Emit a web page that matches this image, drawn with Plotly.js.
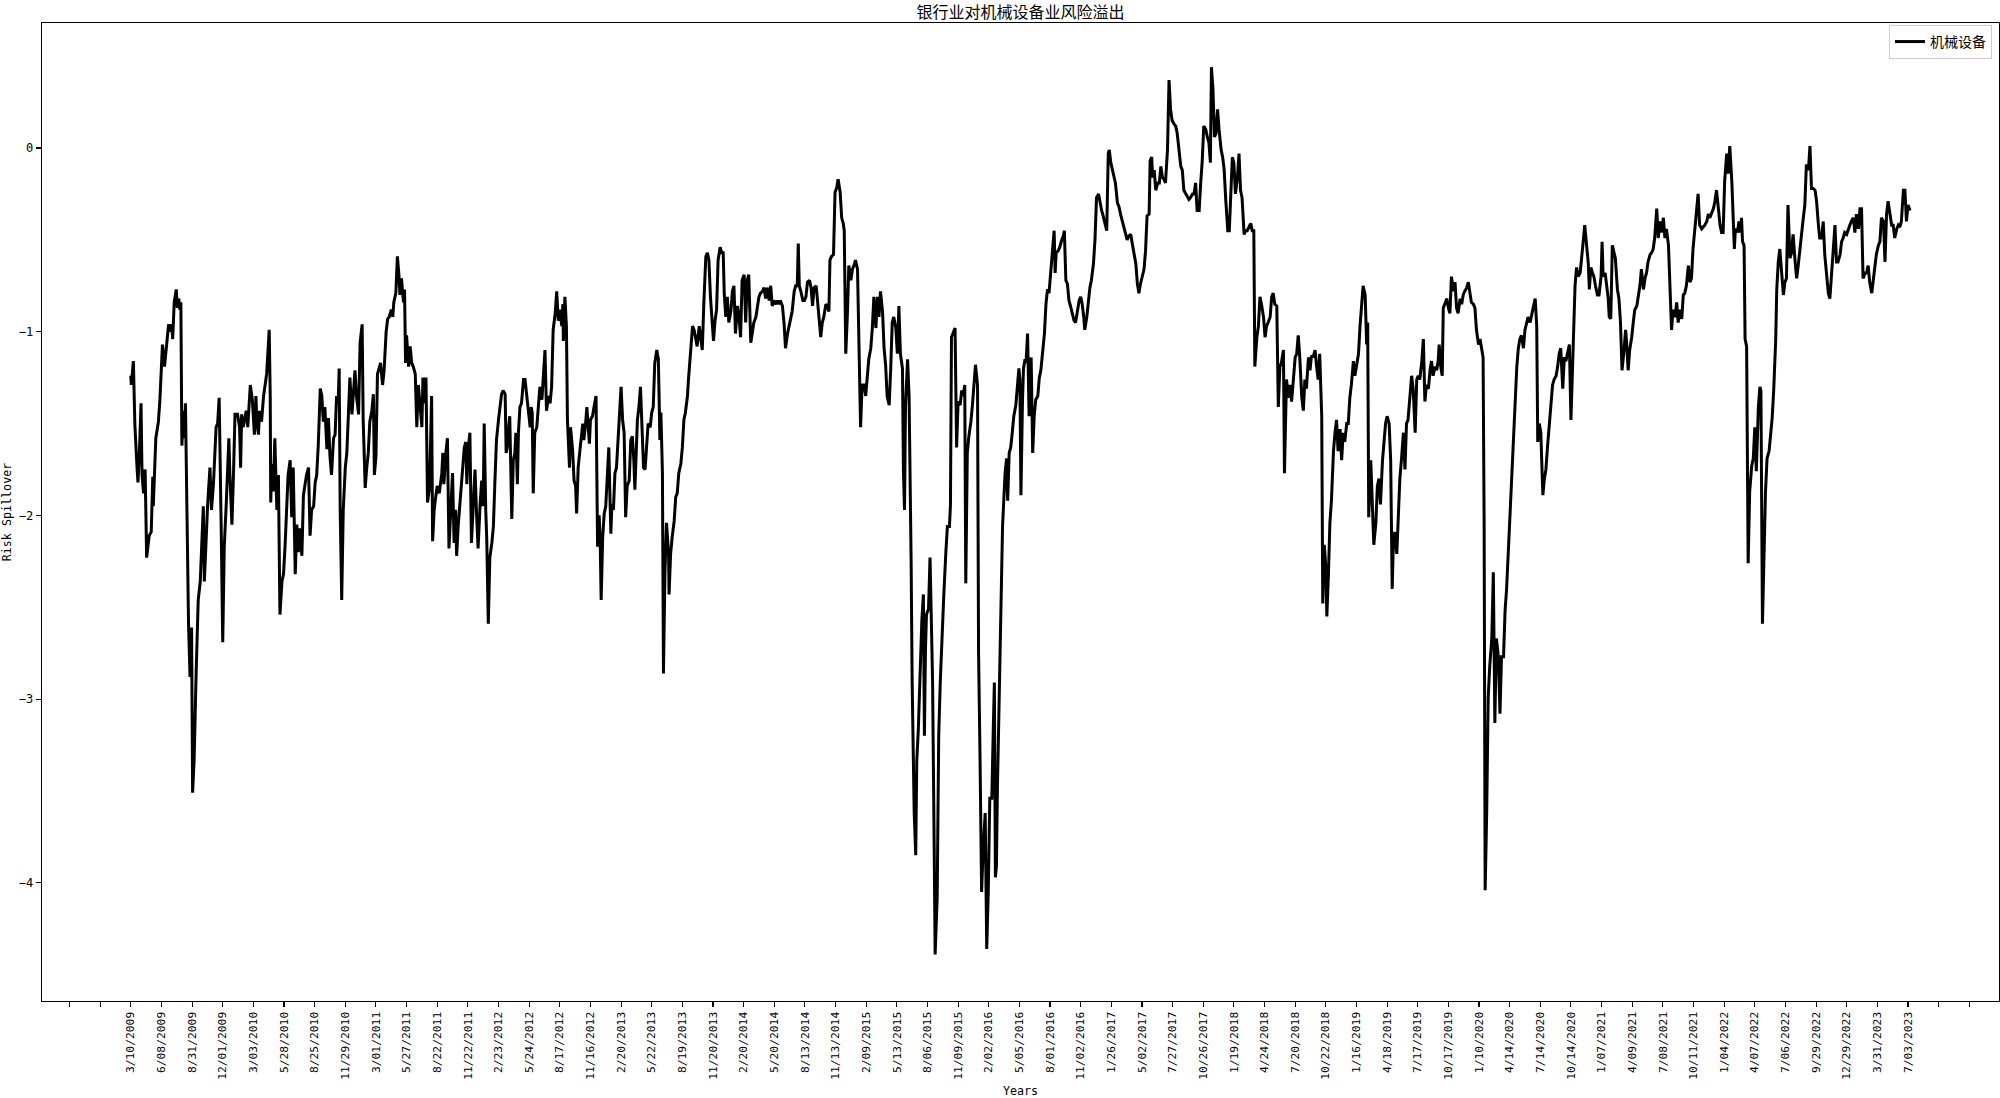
<!DOCTYPE html>
<html>
<head>
<meta charset="utf-8">
<script src="https://cdn.plot.ly/plotly-3.0.1.min.js"></script>
<style>
html,body{margin:0;padding:0;background:#fff;}
#chart{width:2000px;height:1098px;}
</style>
</head>
<body>
<div id="chart"></div>
<script>
const chartTitle = '银行业对机械设备业风险溢出';
const seriesName = '机械设备';
const xTitle = 'Years';
const yTitle = 'Risk Spillover';

const tickDates = ['3/10/2009','6/08/2009','8/31/2009','12/01/2009','3/03/2010','5/28/2010','8/25/2010','11/29/2010',
'3/01/2011','5/27/2011','8/22/2011','11/22/2011','2/23/2012','5/24/2012','8/17/2012','11/16/2012',
'2/20/2013','5/22/2013','8/19/2013','11/20/2013','2/20/2014','5/20/2014','8/13/2014','11/13/2014',
'2/09/2015','5/13/2015','8/06/2015','11/09/2015','2/02/2016','5/05/2016','8/01/2016','11/02/2016',
'1/26/2017','5/02/2017','7/27/2017','10/26/2017','1/19/2018','4/24/2018','7/20/2018','10/22/2018',
'1/16/2019','4/18/2019','7/17/2019','10/17/2019','1/10/2020','4/14/2020','7/14/2020','10/14/2020',
'1/07/2021','4/09/2021','7/08/2021','10/11/2021','1/04/2022','4/07/2022','7/06/2022','9/29/2022',
'12/29/2022','3/31/2023','7/03/2023'];
const tickStep = 60;            // trading days between labelled ticks
const yTicks = [0, -1, -2, -3, -4];

// [trading-day index, risk spillover]
const spilloverByDay = [
[0,-1.24],[1,-1.29],[5,-1.16],[8,-1.51],[12,-1.73],[14,-1.82],[17,-1.64],[20,-1.39],[22,-1.78],[25,-1.88],[28,-1.75],[31,-2.23],[36,-2.11],[40,-2.09],[43,-1.79],[44,-1.95],[49,-1.58],[54,-1.49],[57,-1.37],[62,-1.07],[66,-1.19],[69,-1.11],[74,-0.96],[77,-1.00],[80,-0.96],[82,-1.04],[85,-0.84],[89,-0.77],[91,-0.87],[94,-0.82],[96,-0.88],[98,-0.84],
[100,-1.62],[103,-1.43],[105,-1.58],[107,-1.39],[109,-1.82],[113,-2.59],[116,-2.88],[119,-2.61],[121,-3.51],[124,-3.33],[128,-2.85],[132,-2.46],[136,-2.36],[140,-2.07],[142,-1.95],[144,-2.36],[147,-2.11],[150,-1.97],[152,-1.87],[155,-1.74],[158,-1.97],[162,-1.82],[167,-1.52],[170,-1.50],[173,-1.36],[175,-1.64],[177,-2.07],[180,-2.69],[183,-2.17],[187,-1.93],[189,-1.78],[192,-1.58],[194,-1.78],[198,-2.05],
[201,-1.78],[204,-1.45],[209,-1.45],[213,-1.52],[215,-1.74],[217,-1.45],[220,-1.52],[226,-1.43],[229,-1.52],[234,-1.29],[238,-1.37],[242,-1.56],[245,-1.35],[247,-1.50],[250,-1.56],[252,-1.43],[256,-1.49],[260,-1.35],[266,-1.23],[271,-0.99],[273,-1.35],[274,-1.93],[276,-1.72],[279,-1.87],[282,-1.58],[286,-1.97],[289,-1.78],[292,-2.54],[296,-2.36],[299,-2.32],
[302,-2.17],[305,-1.97],[308,-1.78],[312,-1.70],[315,-2.01],[318,-1.74],[322,-2.32],[325,-2.05],[328,-2.20],[331,-2.07],[335,-2.22],[338,-1.89],[341,-1.83],[344,-1.78],[348,-1.74],[351,-2.11],[354,-1.97],[358,-1.95],[361,-1.82],[364,-1.78],[367,-1.62],[371,-1.31],[374,-1.35],[377,-1.49],[380,-1.41],[384,-1.64],[387,-1.47],[390,-1.68],[393,-1.78],[397,-1.58],
[400,-1.56],[403,-1.35],[406,-1.39],[408,-1.20],[410,-1.97],[413,-2.46],[416,-1.97],[420,-1.74],[423,-1.66],[426,-1.49],[429,-1.25],[433,-1.45],[436,-1.33],[439,-1.21],[442,-1.35],[446,-1.45],[449,-1.06],[453,-0.96],[455,-1.48],[459,-1.85],[462,-1.74],[465,-1.66],[468,-1.49],[472,-1.43],[475,-1.34],[477,-1.78],[480,-1.68],[483,-1.23],[487,-1.19],[489,-1.17],[493,-1.29],[496,-1.21],
[500,-1.00],[503,-0.93],[506,-0.92],[510,-0.88],[513,-0.92],[515,-0.84],[519,-0.79],[522,-0.59],[525,-0.69],[527,-0.80],[530,-0.71],[534,-0.84],[536,-0.77],[538,-1.17],[540,-1.02],[544,-1.19],[547,-1.08],[550,-1.17],[553,-1.19],[557,-1.23],[560,-1.52],[563,-1.29],[566,-1.39],[570,-1.52],[572,-1.25],[575,-1.39],[578,-1.25],[581,-1.93],[585,-1.85],
[589,-1.35],[591,-2.14],[594,-1.97],[597,-1.90],[600,-1.84],[604,-1.88],[609,-1.77],[611,-1.66],[613,-1.83],[617,-1.66],[620,-1.58],[623,-2.18],[626,-2.03],[630,-1.77],[633,-2.15],[636,-1.97],[638,-2.22],[641,-2.06],[646,-1.88],[650,-1.70],[653,-1.63],[656,-1.60],[658,-1.83],[661,-1.63],[664,-1.55],[667,-2.15],[671,-1.90],[674,-1.75],[677,-1.99],[680,-2.18],[684,-1.94],[687,-1.81],[690,-1.95],[692,-1.50],[695,-1.97],[697,-2.13],
[700,-2.59],[703,-2.23],[707,-2.15],[710,-2.06],[713,-1.81],[716,-1.59],[720,-1.48],[723,-1.41],[726,-1.34],[729,-1.32],[733,-1.34],[735,-1.66],[737,-1.63],[740,-1.52],[742,-1.46],[746,-2.02],[749,-1.70],[752,-1.66],[754,-1.55],[757,-1.83],[759,-1.55],[762,-1.41],[765,-1.39],[769,-1.26],[772,-1.26],[775,-1.34],[778,-1.41],[782,-1.52],[784,-1.41],[786,-1.44],[788,-1.88],[791,-1.55],[795,-1.52],[798,-1.41],
[801,-1.30],[805,-1.37],[808,-1.26],[811,-1.10],[814,-1.43],[818,-1.35],[821,-1.39],[824,-1.30],[827,-0.99],[831,-0.90],[834,-0.78],[837,-0.94],[840,-0.88],[844,-0.97],[846,-0.85],[847,-1.05],[850,-0.81],[853,-0.97],[855,-1.48],[859,-1.74],[861,-1.52],[865,-1.64],[868,-1.81],[871,-1.84],[873,-1.99],[876,-1.74],[880,-1.63],[883,-1.55],[885,-1.50],[887,-1.59],[890,-1.52],[893,-1.41],[896,-1.55],[898,-1.61],
[900,-1.48],[904,-1.46],[907,-1.41],[911,-1.35],[914,-2.17],[917,-2.00],[919,-2.12],[921,-2.46],[924,-2.12],[927,-1.99],[930,-1.95],[933,-1.81],[936,-1.63],[940,-2.10],[942,-1.94],[945,-1.97],[948,-1.77],[951,-1.74],[955,-1.55],[958,-1.41],[960,-1.30],[963,-1.48],[966,-1.55],[969,-2.01],[972,-1.84],[976,-1.81],[979,-1.59],[982,-1.57],[985,-1.70],[987,-1.86],[989,-1.66],[992,-1.48],[995,-1.41],[998,-1.30],
[1001,-1.52],[1004,-1.74],[1007,-1.75],[1010,-1.63],[1013,-1.50],[1017,-1.52],[1020,-1.44],[1023,-1.41],[1026,-1.17],[1030,-1.10],[1033,-1.15],[1035,-1.43],[1036,-1.59],[1038,-1.44],[1041,-1.77],[1043,-2.86],[1046,-2.30],[1049,-2.04],[1053,-2.21],[1054,-2.43],[1057,-2.21],[1060,-2.12],[1064,-2.03],[1067,-1.90],[1070,-1.88],[1073,-1.77],[1077,-1.72],[1080,-1.63],[1083,-1.48],[1086,-1.44],[1090,-1.35],[1092,-1.26],[1096,-1.12],
[1100,-0.97],[1103,-0.99],[1106,-1.03],[1109,-1.08],[1113,-0.97],[1116,-1.05],[1119,-1.10],[1122,-0.85],[1126,-0.59],[1129,-0.57],[1132,-0.61],[1135,-0.81],[1139,-0.94],[1141,-1.05],[1144,-0.94],[1147,-0.88],[1150,-0.61],[1154,-0.54],[1157,-0.57],[1160,-0.57],[1162,-0.79],
[1165,-0.92],[1168,-0.81],[1171,-0.95],[1175,-0.89],[1178,-0.78],[1181,-0.75],[1184,-1.01],[1188,-0.86],[1191,-0.92],[1194,-1.03],[1197,-0.72],[1201,-0.69],[1204,-0.95],[1207,-0.72],[1210,-0.69],[1214,-1.06],[1217,-1.01],[1220,-0.95],[1224,-0.92],[1227,-0.86],[1230,-0.81],[1233,-0.79],[1237,-0.78],[1240,-0.76],[1243,-0.82],[1246,-0.76],[1250,-0.83],[1253,-0.75],[1256,-0.86],[1259,-0.83],[1263,-0.85],[1266,-0.83],[1269,-0.85],[1272,-0.83],[1276,-0.86],[1279,-0.95],[1282,-1.09],[1286,-1.01],[1289,-0.96],[1292,-0.93],[1295,-0.89],[1299,-0.78],
[1302,-0.75],[1305,-0.75],[1307,-0.52],[1309,-0.75],[1312,-0.78],[1316,-0.83],[1319,-0.83],[1322,-0.81],[1325,-0.73],[1329,-0.72],[1332,-0.76],[1335,-0.86],[1338,-0.76],[1342,-0.75],[1344,-0.81],[1348,-0.95],[1351,-1.03],[1354,-0.95],[1357,-0.92],[1361,-0.85],[1364,-0.86],[1367,-0.89],[1369,-0.61],[1372,-0.59],[1376,-0.58],[1379,-0.24],[1382,-0.22],[1385,-0.17],[1389,-0.24],[1392,-0.38],[1395,-0.41],[1397,-0.45],
[1400,-1.12],[1403,-0.92],[1406,-0.64],[1410,-0.72],[1413,-0.66],[1416,-0.64],[1419,-0.61],[1423,-0.66],[1426,-1.12],[1429,-1.52],[1432,-1.29],[1436,-1.29],[1439,-1.35],[1442,-1.26],[1445,-1.15],[1449,-1.09],[1452,-0.98],[1455,-0.81],[1459,-0.98],[1462,-0.81],[1465,-0.92],[1468,-0.78],[1472,-0.89],[1475,-1.09],[1478,-1.18],[1481,-1.35],[1485,-1.40],[1488,-1.20],[1491,-0.95],[1494,-0.92],[1498,-0.98],
[1501,-1.12],[1504,-0.86],[1507,-1.12],[1511,-1.20],[1513,-1.77],[1515,-1.97],[1517,-1.40],[1521,-1.15],[1524,-1.35],[1526,-1.69],[1528,-2.26],[1530,-2.91],[1534,-3.62],[1537,-3.85],[1539,-3.34],[1542,-3.17],[1545,-2.86],[1549,-2.57],[1552,-2.43],[1554,-3.20],[1556,-2.74],[1558,-2.54],[1562,-2.51],[1565,-2.23],[1568,-2.63],[1570,-2.91],[1573,-3.77],[1575,-4.39],[1579,-4.08],[1582,-3.20],[1585,-2.91],[1588,-2.74],[1592,-2.43],[1596,-2.20],[1599,-2.06],
[1603,-2.06],[1605,-1.94],[1607,-1.03],[1611,-1.00],[1614,-0.98],[1617,-1.63],[1620,-1.38],[1624,-1.40],[1627,-1.32],[1630,-1.35],[1633,-1.29],[1635,-2.37],[1638,-1.66],[1641,-1.57],[1645,-1.49],[1648,-1.40],[1651,-1.29],[1654,-1.18],[1658,-1.29],[1660,-2.74],[1663,-3.34],[1664,-3.77],[1666,-4.05],[1669,-3.82],[1673,-3.62],[1676,-4.36],[1679,-4.05],[1682,-3.54],[1686,-3.54],[1689,-3.14],[1691,-2.91],[1693,-3.97],[1695,-3.91],[1697,-3.48],
[1701,-2.91],[1703,-2.49],[1707,-2.06],[1709,-1.94],[1712,-1.77],[1715,-1.69],[1717,-1.92],[1720,-1.66],[1723,-1.63],[1726,-1.55],[1729,-1.46],[1733,-1.40],[1736,-1.29],[1739,-1.20],[1741,-1.26],[1743,-1.89],[1746,-1.38],[1748,-1.20],[1751,-1.15],
[1753,-1.17],[1756,-1.01],[1759,-1.46],[1763,-1.14],[1766,-1.66],[1769,-1.46],[1772,-1.37],[1776,-1.35],[1779,-1.25],[1782,-1.21],[1786,-1.10],[1789,-1.01],[1792,-0.85],[1795,-0.77],[1798,-0.79],[1801,-0.70],[1804,-0.59],[1808,-0.45],[1810,-0.68],[1812,-0.57],[1816,-0.56],[1819,-0.54],[1823,-0.50],[1826,-0.48],[1828,-0.45],[1831,-0.72],[1834,-0.74],[1837,-0.83],[1840,-0.86],[1844,-0.90],[1847,-0.94],[1850,-0.95],[1853,-0.90],[1857,-0.83],[1860,-0.81],[1863,-0.85],[1866,-0.92],[1868,-0.99],[1872,-0.92],[1875,-0.83],[1878,-0.76],[1881,-0.72],[1885,-0.63],[1888,-0.50],[1891,-0.27],[1895,-0.25],[1898,-0.30],
[1901,-0.34],[1904,-0.37],[1908,-0.41],[1911,-0.45],[1914,-0.03],[1916,-0.01],[1919,-0.08],[1922,-0.12],[1925,-0.16],[1928,-0.19],[1932,-0.30],[1935,-0.32],[1938,-0.36],[1941,-0.39],[1945,-0.43],[1948,-0.47],[1951,-0.50],[1954,-0.48],[1958,-0.47],[1961,-0.52],[1964,-0.57],[1968,-0.63],[1971,-0.74],[1974,-0.79],[1977,-0.74],[1981,-0.70],[1984,-0.66],[1987,-0.56],[1990,-0.37],[1994,-0.36],[1996,-0.07],[1999,-0.05],
[2001,-0.16],[2004,-0.12],[2007,-0.23],[2011,-0.19],[2014,-0.19],[2017,-0.10],[2020,-0.16],[2023,-0.17],[2026,-0.19],[2030,-0.01],[2033,0.37],[2036,0.21],[2039,0.15],[2043,0.13],[2046,0.12],[2049,0.08],[2052,-0.01],[2056,-0.10],[2059,-0.12],[2062,-0.23],[2066,-0.25],[2069,-0.27],[2072,-0.28],[2075,-0.27],[2079,-0.25],[2082,-0.25],[2085,-0.19],[2088,-0.34],[2092,-0.34],[2095,-0.19],[2098,-0.07],
[2101,0.12],[2105,0.10],[2108,0.06],[2111,0.03],[2114,-0.08],[2116,0.44],[2119,0.32],[2122,0.06],[2125,0.08],[2128,0.21],[2131,0.10],[2135,-0.01],[2138,-0.05],[2141,-0.12],[2144,-0.28],[2148,-0.45],[2151,-0.45],[2154,-0.28],[2157,-0.05],[2160,-0.08],[2163,-0.25],[2167,-0.16],[2170,-0.03],[2173,-0.23],[2176,-0.27],[2180,-0.47],[2183,-0.45],[2186,-0.45],[2190,-0.43],[2193,-0.41],[2196,-0.45],[2199,-0.45],
[2201,-1.19],[2205,-1.03],[2208,-0.97],[2211,-0.81],[2214,-0.85],[2218,-0.92],[2221,-1.03],[2224,-0.97],[2227,-0.95],[2231,-0.92],[2234,-0.81],[2237,-0.79],[2240,-0.85],[2244,-0.86],[2247,-1.41],[2250,-1.19],[2253,-1.17],[2257,-1.10],[2259,-1.77],
[2261,-1.50],[2263,-1.26],[2267,-1.36],[2270,-1.29],[2273,-1.38],[2276,-1.26],[2280,-1.14],[2283,-1.12],[2286,-1.02],[2289,-1.14],[2293,-1.36],[2296,-1.43],[2299,-1.26],[2302,-1.31],[2306,-1.14],[2309,-1.21],[2312,-1.13],[2315,-1.14],[2319,-1.10],[2322,-1.19],[2325,-1.26],[2328,-1.12],[2332,-1.46],[2334,-2.48],[2337,-2.16],[2340,-2.28],[2342,-2.55],[2345,-2.33],[2348,-2.04],[2351,-1.92],[2355,-1.65],[2358,-1.55],
[2361,-1.48],[2364,-1.65],[2368,-1.53],[2371,-1.70],[2374,-1.55],[2377,-1.60],[2381,-1.50],[2384,-1.50],[2387,-1.36],[2390,-1.29],[2394,-1.16],[2397,-1.24],[2400,-1.19],[2404,-1.12],[2407,-0.97],[2410,-0.85],[2413,-0.75],[2417,-0.80],[2420,-1.07],[2422,-0.95],[2424,-2.01],[2428,-1.70],[2431,-1.89],[2434,-2.16],[2438,-2.04],[2441,-1.84],[2444,-1.80],[2447,-1.94],[2451,-1.70],[2454,-1.58],[2457,-1.50],[2460,-1.46],[2464,-1.50],[2467,-1.70],[2470,-2.40],[2472,-2.18],[2475,-2.09],[2479,-2.21],[2482,-1.99],[2485,-1.80],[2488,-1.70],[2492,-1.55],[2495,-1.75],[2498,-1.50],
[2501,-1.48],[2505,-1.31],[2508,-1.24],[2511,-1.31],[2515,-1.55],[2518,-1.26],[2521,-1.24],[2524,-1.26],[2528,-1.16],[2531,-1.04],[2534,-1.38],[2537,-1.29],[2541,-1.31],[2544,-1.21],[2547,-1.16],[2550,-1.24],[2554,-1.19],[2557,-1.21],[2560,-1.16],[2562,-1.07],[2565,-1.19],[2568,-1.24],[2570,-0.87],[2573,-0.85],[2577,-0.82],[2580,-0.87],[2583,-0.90],[2586,-0.70],[2590,-0.78],[2593,-0.73],[2596,-0.87],[2599,-0.90],
[2603,-0.82],[2606,-0.85],[2609,-0.80],[2612,-0.78],[2616,-0.76],[2619,-0.73],[2622,-0.80],[2625,-0.84],[2629,-0.85],[2632,-0.87],[2635,-0.99],[2639,-1.07],[2642,-1.04],[2645,-1.09],[2648,-1.14],[2650,-2.04],[2652,-4.04],[2655,-3.62],[2658,-2.99],[2661,-2.82],[2665,-2.67],[2668,-2.31],[2671,-3.13],[2674,-2.67],[2678,-2.77],[2681,-3.08],[2684,-2.77],[2688,-2.77],[2691,-2.52],[2694,-2.40],[2697,-2.21],
[2701,-1.99],[2704,-1.80],[2707,-1.60],[2710,-1.43],[2714,-1.19],[2717,-1.09],[2720,-1.04],[2723,-1.02],[2727,-1.09],[2730,-0.99],[2733,-0.95],[2736,-0.92],[2740,-0.95],[2743,-0.90],[2746,-0.87],[2750,-0.82],[2753,-0.97],[2755,-1.60],[2758,-1.50],[2761,-1.55],[2765,-1.89],[2768,-1.80],[2771,-1.75],[2774,-1.63],[2778,-1.48],[2781,-1.36],[2784,-1.29],[2787,-1.26],[2791,-1.24],[2794,-1.19],[2797,-1.12],
[2800,-1.09],[2804,-1.31],[2807,-1.14],[2810,-1.16],[2813,-1.12],[2817,-1.07],[2820,-1.48],[2822,-1.31],[2825,-1.07],[2828,-0.75],[2831,-0.65],[2834,-0.70],[2838,-0.68],[2841,-0.61],[2844,-0.51],[2847,-0.42],[2851,-0.53],[2854,-0.63],[2856,-0.77],[2859,-0.65],[2862,-0.68],[2865,-0.70],[2868,-0.75],[2872,-0.80],[2875,-0.80],[2879,-0.70],[2881,-0.51],[2883,-0.70],[2887,-0.68],[2890,-0.75],[2893,-0.82],[2895,-0.92],
[2898,-0.93],[2901,-0.53],[2904,-0.57],[2907,-0.60],[2911,-0.77],[2914,-0.82],[2917,-0.95],[2920,-1.21],[2924,-1.10],[2927,-0.99],[2929,-1.06],[2932,-1.21],[2935,-1.10],[2939,-1.03],[2942,-0.95],[2945,-0.88],[2949,-0.86],[2952,-0.81],[2955,-0.75],[2958,-0.66],[2962,-0.77],[2965,-0.71],[2968,-0.68],[2971,-0.62],[2975,-0.58],[2978,-0.57],[2981,-0.55],[2984,-0.49],[2988,-0.33],[2991,-0.49],[2994,-0.40],[2997,-0.46],
[3001,-0.38],[3004,-0.49],[3007,-0.44],[3011,-0.53],[3014,-0.79],[3017,-0.99],[3020,-0.88],[3024,-0.92],[3027,-0.84],[3030,-0.95],[3033,-0.88],[3037,-0.93],[3040,-0.80],[3043,-0.79],[3046,-0.75],[3050,-0.64],[3053,-0.73],[3056,-0.71],[3059,-0.55],[3063,-0.44],[3066,-0.36],[3069,-0.25],[3072,-0.42],[3076,-0.44],[3079,-0.43],[3082,-0.42],[3086,-0.40],[3089,-0.36],[3092,-0.38],[3095,-0.36],[3099,-0.33],
[3102,-0.29],[3105,-0.23],[3108,-0.31],[3112,-0.42],[3115,-0.46],[3118,-0.46],[3121,-0.18],[3125,-0.03],[3128,-0.14],[3131,0.01],[3135,-0.18],[3138,-0.40],[3140,-0.55],[3142,-0.44],[3146,-0.46],[3149,-0.40],[3152,-0.46],[3154,-0.38],[3156,-0.51],[3159,-0.53],[3161,-1.04],[3164,-1.08],[3167,-2.26],[3170,-1.87],[3174,-1.73],[3177,-1.69],[3180,-1.52],[3183,-1.76],[3187,-1.41],[3190,-1.30],[3192,-1.32],[3195,-2.59],[3198,-2.20],
[3201,-1.87],[3204,-1.69],[3208,-1.65],[3211,-1.56],[3214,-1.47],[3217,-1.32],[3221,-1.04],[3223,-0.77],[3226,-0.62],[3229,-0.55],[3232,-0.68],[3236,-0.80],[3239,-0.73],[3242,-0.71],[3245,-0.31],[3249,-0.60],[3252,-0.57],[3255,-0.47],[3259,-0.62],[3262,-0.71],[3265,-0.64],[3268,-0.55],[3272,-0.44],[3275,-0.38],[3278,-0.31],[3281,-0.09],[3285,-0.12],[3288,0.01],[3291,-0.22],[3294,-0.22],[3298,-0.23],
[3301,-0.29],[3304,-0.40],[3307,-0.49],[3311,-0.49],[3314,-0.40],[3317,-0.58],[3321,-0.73],[3324,-0.79],[3327,-0.82],[3330,-0.71],[3334,-0.58],[3337,-0.42],[3340,-0.62],[3343,-0.62],[3347,-0.58],[3350,-0.51],[3353,-0.49],[3356,-0.46],[3360,-0.47],[3363,-0.44],[3366,-0.42],[3369,-0.40],[3373,-0.38],[3376,-0.46],[3379,-0.36],[3383,-0.44],[3386,-0.33],[3389,-0.33],[3392,-0.71],[3396,-0.68],[3399,-0.68],
[3402,-0.64],[3405,-0.73],[3409,-0.79],[3412,-0.71],[3415,-0.66],[3418,-0.58],[3422,-0.53],[3425,-0.51],[3428,-0.38],[3432,-0.40],[3435,-0.62],[3438,-0.36],[3441,-0.29],[3445,-0.38],[3448,-0.42],[3451,-0.42],[3454,-0.49],[3458,-0.44],[3461,-0.42],[3464,-0.43],[3467,-0.40],[3471,-0.23],[3474,-0.23],[3477,-0.40],[3480,-0.31],[3484,-0.34]
];

const xs = spilloverByDay.map(p => p[0]);
const ys = spilloverByDay.map(p => p[1]);

const tickVals = [];
const tickText = [];
for (let k = -2; k < tickDates.length + 2; k++) {
  tickVals.push(k * tickStep);
  tickText.push(k >= 0 && k < tickDates.length ? tickDates[k] : '');
}

const monoFont = 'DejaVu Sans Mono, Liberation Mono, monospace';
const cjkFont = 'Noto Sans CJK SC, Noto Sans, sans-serif';

const trace = {
  type: 'scatter',
  mode: 'lines',
  x: xs,
  y: ys,
  name: seriesName,
  showlegend: true,
  line: { color: '#000000', width: 3 },
  hoverinfo: 'skip'
};

const layout = {
  width: 2000,
  height: 1098,
  margin: { l: 42, r: 1, t: 23, b: 97, pad: 0 },
  paper_bgcolor: '#ffffff',
  plot_bgcolor: '#ffffff',
  title: {
    text: chartTitle,
    font: { family: cjkFont, size: 16, color: '#000000' },
    x: 0.5, xref: 'paper', xanchor: 'center',
    y: 1 - 12.5 / 1098, yref: 'container', yanchor: 'middle'
  },
  xaxis: {
    range: [-173.9, 3658.2],
    tickmode: 'array',
    tickvals: tickVals,
    ticktext: tickText,
    tickangle: -90,
    ticks: 'outside', ticklen: 5, tickwidth: 1.1, tickcolor: '#000000',
    showline: true, linecolor: '#000000', linewidth: 1.3, mirror: true,
    showgrid: false, zeroline: false,
    tickfont: { family: monoFont, size: 11.3, color: '#000000' },
    title: { text: xTitle, font: { family: monoFont, size: 11.7, color: '#000000' }, standoff: 16 },
    automargin: false
  },
  yaxis: {
    range: [-4.6435, 0.6805],
    tickmode: 'array',
    tickvals: yTicks,
    ticks: 'outside', ticklen: 5, tickwidth: 1.1, tickcolor: '#000000',
    showline: true, linecolor: '#000000', linewidth: 1.3, mirror: true,
    showgrid: false, zeroline: false,
    tickfont: { family: monoFont, size: 12, color: '#000000' },
    title: { text: yTitle, font: { family: monoFont, size: 11.7, color: '#000000' }, standoff: 6 },
    automargin: false
  },
  legend: {
    x: 0.9964, xanchor: 'right', xref: 'paper',
    y: 0.998, yanchor: 'top', yref: 'paper',
    bgcolor: '#ffffff', bordercolor: '#cccccc', borderwidth: 1,
    font: { family: cjkFont, size: 14, color: '#000000' }
  },
  hovermode: false
};

Plotly.newPlot('chart', [trace], layout, { staticPlot: true, displayModeBar: false });
</script>
</body>
</html>
